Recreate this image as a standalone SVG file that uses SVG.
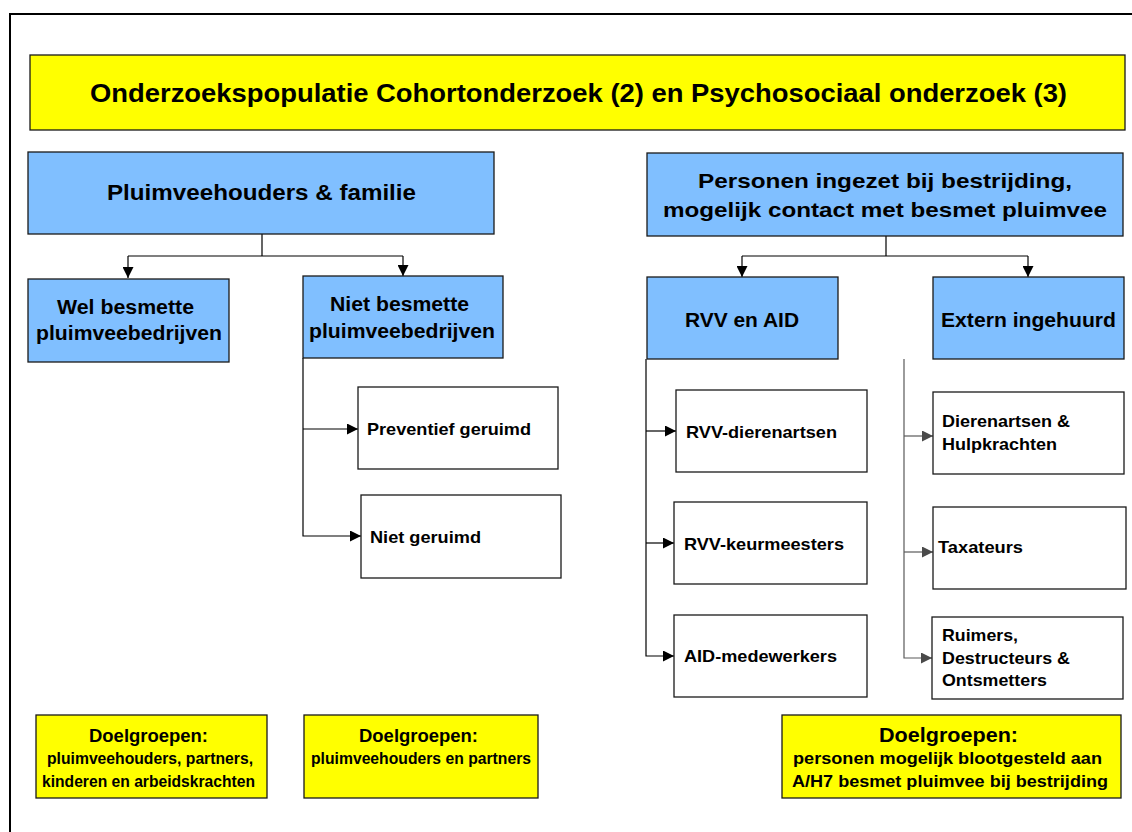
<svg xmlns="http://www.w3.org/2000/svg" width="1132" height="832" viewBox="0 0 1132 832">
<defs>
<style>
text{font-family:"Liberation Sans",Arial,sans-serif;font-weight:bold;fill:#000}
.blue{fill:#80BFFF;stroke:#1a1a1a;stroke-width:1.3}
.yel{fill:#FFFF00;stroke:#1a1a1a;stroke-width:1.3}
.wht{fill:#fff;stroke:#1a1a1a;stroke-width:1.3}
.ln{fill:none;stroke:#000;stroke-width:1.2}
.lg{fill:none;stroke:#5a5a5a;stroke-width:1.2}
</style>
<marker id="ah" viewBox="0 0 10 10" refX="10" refY="5" markerWidth="11" markerHeight="11" markerUnits="userSpaceOnUse" orient="auto"><path d="M0,0 L10,5 L0,10 z" fill="#000"/></marker>
<marker id="ahg" viewBox="0 0 10 10" refX="10" refY="5" markerWidth="11" markerHeight="11" markerUnits="userSpaceOnUse" orient="auto"><path d="M0,0 L10,5 L0,10 z" fill="#4a4a4a"/></marker>
</defs>
<rect width="1132" height="832" fill="#fff"/>
<rect x="10" y="14" width="1130" height="830" fill="none" stroke="#000" stroke-width="2"/>

<g id="title">
<rect class="yel" x="30" y="55" width="1095" height="75"/>
<text x="90" y="102" font-size="25" textLength="977" lengthAdjust="spacingAndGlyphs">Onderzoekspopulatie Cohortonderzoek (2) en Psychosociaal onderzoek (3)</text>
</g>

<g id="connectors">
<path class="ln" d="M262,234 V256 M128,256 H403"/>
<path class="ln" d="M128,256 V278" marker-end="url(#ah)"/>
<path class="ln" d="M403,256 V276" marker-end="url(#ah)"/>
<path class="ln" d="M303,358 V536 H361" marker-end="url(#ah)"/>
<path class="ln" d="M303,429 H358" marker-end="url(#ah)"/>
<path class="ln" d="M886,236 V256 M742,256 H1028"/>
<path class="ln" d="M742,256 V277" marker-end="url(#ah)"/>
<path class="ln" d="M1028,256 V277" marker-end="url(#ah)"/>
<path class="ln" d="M646,359 V656 H674" marker-end="url(#ah)"/>
<path class="ln" d="M646,431 H676" marker-end="url(#ah)"/>
<path class="ln" d="M646,543 H674" marker-end="url(#ah)"/>
<path class="lg" d="M904,359 V658 H932" marker-end="url(#ahg)"/>
<path class="lg" d="M904,436 H933" marker-end="url(#ahg)"/>
<path class="lg" d="M904,552 H933" marker-end="url(#ahg)"/>
</g>

<g id="pluimveehouders">
<rect class="blue" x="28" y="152" width="466" height="82"/>
<text x="107" y="200" font-size="22" textLength="309" lengthAdjust="spacingAndGlyphs">Pluimveehouders &amp; familie</text>
</g>
<g id="wel-besmette">
<rect class="blue" x="28" y="279" width="201" height="83"/>
<text x="57" y="314" font-size="19.5" textLength="137" lengthAdjust="spacingAndGlyphs">Wel besmette</text>
<text x="36" y="340" font-size="19.5" textLength="186" lengthAdjust="spacingAndGlyphs">pluimveebedrijven</text>
</g>
<g id="niet-besmette">
<rect class="blue" x="303" y="276" width="200" height="82"/>
<text x="330" y="311" font-size="19.5" textLength="139" lengthAdjust="spacingAndGlyphs">Niet besmette</text>
<text x="309" y="338" font-size="19.5" textLength="186" lengthAdjust="spacingAndGlyphs">pluimveebedrijven</text>
</g>
<g id="preventief">
<rect class="wht" x="358" y="387" width="200" height="82"/>
<text x="367" y="435" font-size="16.5" textLength="164" lengthAdjust="spacingAndGlyphs">Preventief geruimd</text>
</g>
<g id="niet-geruimd">
<rect class="wht" x="361" y="495" width="200" height="83"/>
<text x="370" y="543" font-size="16.5" textLength="111" lengthAdjust="spacingAndGlyphs">Niet geruimd</text>
</g>

<g id="personen">
<rect class="blue" x="647" y="153" width="476" height="83"/>
<text x="698" y="188" font-size="21" textLength="374" lengthAdjust="spacingAndGlyphs">Personen ingezet bij bestrijding,</text>
<text x="663" y="217" font-size="21" textLength="444" lengthAdjust="spacingAndGlyphs">mogelijk contact met besmet pluimvee</text>
</g>
<g id="rvv-aid">
<rect class="blue" x="647" y="277" width="191" height="82"/>
<text x="685" y="327" font-size="20.5" textLength="114" lengthAdjust="spacingAndGlyphs">RVV en AID</text>
</g>
<g id="extern">
<rect class="blue" x="933" y="277" width="191" height="82"/>
<text x="941" y="327" font-size="20.5" textLength="175" lengthAdjust="spacingAndGlyphs">Extern ingehuurd</text>
</g>
<g id="rvv-dierenartsen">
<rect class="wht" x="676" y="390" width="191" height="82"/>
<text x="686" y="438" font-size="16.5" textLength="151" lengthAdjust="spacingAndGlyphs">RVV-dierenartsen</text>
</g>
<g id="rvv-keurmeesters">
<rect class="wht" x="674" y="502" width="193" height="82"/>
<text x="684" y="550" font-size="16.5" textLength="160" lengthAdjust="spacingAndGlyphs">RVV-keurmeesters</text>
</g>
<g id="aid-medewerkers">
<rect class="wht" x="674" y="615" width="193" height="82"/>
<text x="684" y="662" font-size="16.5" textLength="153" lengthAdjust="spacingAndGlyphs">AID-medewerkers</text>
</g>
<g id="dierenartsen">
<rect class="wht" x="933" y="392" width="191" height="82"/>
<text x="942" y="427" font-size="16.5" textLength="128" lengthAdjust="spacingAndGlyphs">Dierenartsen &amp;</text>
<text x="942" y="450" font-size="16.5" textLength="115" lengthAdjust="spacingAndGlyphs">Hulpkrachten</text>
</g>
<g id="taxateurs">
<rect class="wht" x="933" y="507" width="193" height="82"/>
<text x="938" y="553" font-size="16.5" textLength="85" lengthAdjust="spacingAndGlyphs">Taxateurs</text>
</g>
<g id="ruimers">
<rect class="wht" x="932" y="617" width="191" height="82"/>
<text x="942" y="641" font-size="16.5" textLength="76" lengthAdjust="spacingAndGlyphs">Ruimers,</text>
<text x="942" y="664" font-size="16.5" textLength="128" lengthAdjust="spacingAndGlyphs">Destructeurs &amp;</text>
<text x="942" y="686" font-size="16.5" textLength="105" lengthAdjust="spacingAndGlyphs">Ontsmetters</text>
</g>

<g id="doelgroepen-1">
<rect class="yel" x="36" y="715" width="231" height="83"/>
<text x="89" y="742" font-size="19" textLength="119" lengthAdjust="spacingAndGlyphs">Doelgroepen:</text>
<text x="47" y="764" font-size="17" textLength="206" lengthAdjust="spacingAndGlyphs">pluimveehouders, partners,</text>
<text x="42" y="787" font-size="17" textLength="213" lengthAdjust="spacingAndGlyphs">kinderen en arbeidskrachten</text>
</g>
<g id="doelgroepen-2">
<rect class="yel" x="304" y="715" width="234" height="83"/>
<text x="359" y="742" font-size="19" textLength="119" lengthAdjust="spacingAndGlyphs">Doelgroepen:</text>
<text x="311" y="764" font-size="17" textLength="220" lengthAdjust="spacingAndGlyphs">pluimveehouders en partners</text>
</g>
<g id="doelgroepen-3">
<rect class="yel" x="782" y="715" width="339" height="83"/>
<text x="879" y="742" font-size="19.5" textLength="139" lengthAdjust="spacingAndGlyphs">Doelgroepen:</text>
<text x="793" y="764" font-size="16.5" textLength="309" lengthAdjust="spacingAndGlyphs">personen mogelijk blootgesteld aan</text>
<text x="792" y="787" font-size="16.5" textLength="316" lengthAdjust="spacingAndGlyphs">A/H7 besmet pluimvee bij bestrijding</text>
</g>
</svg>
